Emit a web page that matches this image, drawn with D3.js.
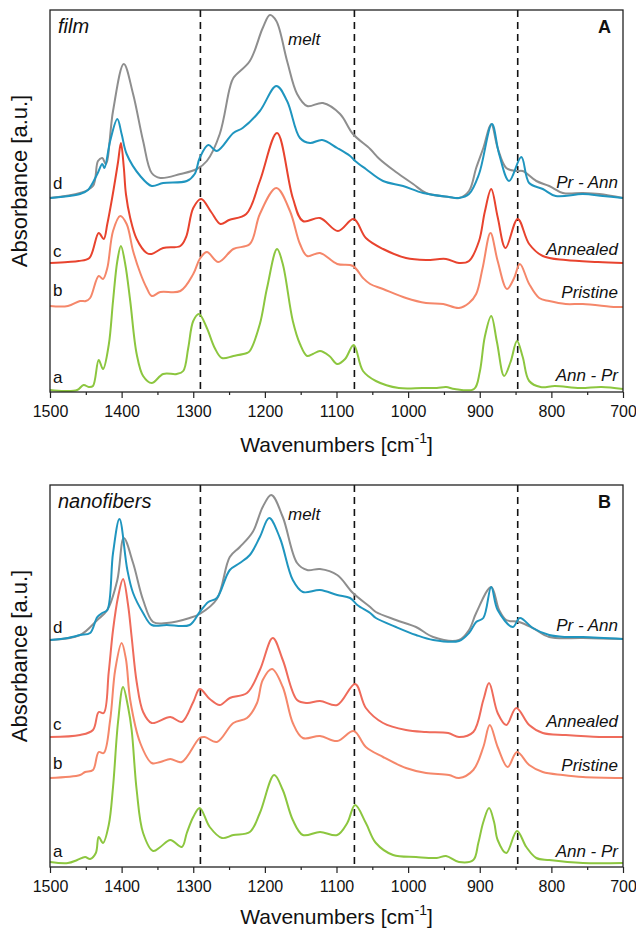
<!DOCTYPE html>
<html><head><meta charset="utf-8">
<script src="https://cdn.jsdelivr.net/npm/d3@7"></script>
<style>
body{margin:0;background:#fff}
svg{display:block}
text{font-family:"Liberation Sans",Arial,Helvetica,sans-serif;fill:#111}
</style>
</head><body>
<svg id="chart" width="636" height="930"></svg>
<script>
// ---------- data (wavenumber [cm-1], absorbance [a.u., offset]) ----------
const majorTicks = [1500,1400,1300,1200,1100,1000,900,800,700];
const minorTicks = [1450,1350,1250,1150,1050,950,850,750];
const markerLines = [1290,1075,847];

const filmAnnPr = [[1500,.02],[1480,.01],[1462,.02],[1453,.07],[1446,.05],[1440,.06],[1432,.32],[1426,.23],[1418,.47],[1412,.91],[1406,1.31],[1401,1.46],[1395,1.28],[1388,.91],[1379,.38],[1370,.16],[1358,.09],[1342,.18],[1323,.18],[1314,.21],[1307,.44],[1300,.71],[1292,.78],[1281,.64],[1270,.44],[1260,.34],[1244,.36],[1225,.39],[1221,.41],[1207,.68],[1197,1.04],[1183,1.43],[1175,1.28],[1161,.71],[1151,.48],[1141,.36],[1133,.38],[1123,.41],[1110,.36],[1099,.28],[1088,.33],[1076,.47],[1063,.21],[1045,.11],[1013,.04],[980,.04],[960,.04],[947,.05],[935,.03],[908,.03],[900,.20],[893,.55],[884,.76],[876,.50],[866,.16],[857,.30],[848,.51],[840,.35],[831,.11],[815,.05],[795,.06],[760,.04],[730,.05],[700,.03]];
const filmPristine = [[1500,.86],[1475,.86],[1458,.91],[1450,.91],[1444,.94],[1432,1.16],[1426,1.13],[1420,1.24],[1412,1.61],[1402,1.76],[1393,1.68],[1384,1.41],[1374,1.19],[1365,1.04],[1358,.96],[1346,1.00],[1318,1.01],[1300,1.18],[1291,1.33],[1281,1.40],[1265,1.30],[1244,1.43],[1221,1.48],[1207,1.78],[1184,2.04],[1165,1.81],[1151,1.48],[1141,1.36],[1123,1.39],[1099,1.28],[1077,1.26],[1063,1.14],[1053,1.08],[1035,1.03],[1003,.94],[975,.89],[951,.88],[929,.84],[915,.89],[905,.98],[896,1.24],[885,1.59],[875,1.31],[862,1.03],[852,1.14],[844,1.28],[831,1.08],[817,.94],[803,.91],[780,.88],[756,.88],[710,.85],[700,.85]];
const filmAnnealed = [[1500,1.29],[1475,1.30],[1460,1.31],[1445,1.34],[1432,1.59],[1425,1.53],[1420,1.68],[1413,1.95],[1405,2.30],[1401,2.49],[1397,2.25],[1394,1.98],[1388,1.74],[1379,1.53],[1365,1.39],[1358,1.38],[1342,1.44],[1318,1.46],[1310,1.55],[1300,1.84],[1289,1.93],[1275,1.80],[1262,1.68],[1250,1.72],[1226,1.78],[1207,2.11],[1183,2.59],[1161,1.94],[1147,1.71],[1123,1.74],[1098,1.61],[1076,1.73],[1059,1.54],[1035,1.43],[1003,1.34],[975,1.32],[947,1.33],[929,1.29],[915,1.31],[901,1.51],[893,1.80],[884,2.03],[875,1.75],[864,1.44],[847,1.73],[831,1.48],[812,1.36],[780,1.32],[735,1.30],[700,1.29]];
const filmPrAnnBlue = [[1500,1.94],[1458,1.98],[1447,2.02],[1434,2.18],[1427,2.28],[1424,2.24],[1416,2.51],[1406,2.73],[1400,2.58],[1393,2.38],[1374,2.16],[1358,2.06],[1342,2.09],[1309,2.11],[1298,2.18],[1291,2.34],[1279,2.47],[1267,2.41],[1244,2.59],[1231,2.64],[1207,2.81],[1184,3.06],[1169,2.91],[1151,2.54],[1137,2.49],[1120,2.52],[1099,2.44],[1081,2.36],[1074,2.31],[1059,2.23],[1035,2.11],[1007,2.06],[979,1.99],[943,1.95],[929,1.94],[915,1.98],[901,2.18],[883,2.68],[873,2.38],[859,2.11],[842,2.35],[831,2.09],[812,2.03],[794,1.96],[756,1.98],[728,1.96],[700,1.94]];
const filmMeltGray = [[1500,1.94],[1458,1.99],[1440,2.06],[1433,2.31],[1427,2.34],[1422,2.28],[1412,2.81],[1397,3.28],[1384,2.98],[1370,2.51],[1358,2.19],[1346,2.14],[1318,2.18],[1295,2.23],[1281,2.31],[1263,2.58],[1249,3.04],[1244,3.14],[1221,3.31],[1203,3.64],[1193,3.77],[1184,3.71],[1169,3.31],[1155,2.98],[1141,2.86],[1119,2.89],[1095,2.78],[1077,2.58],[1053,2.43],[1040,2.33],[1017,2.20],[993,2.08],[975,1.99],[943,1.95],[929,1.94],[915,2.01],[905,2.24],[895,2.44],[884,2.68],[875,2.44],[863,2.24],[849,2.21],[840,2.21],[821,2.11],[803,2.06],[784,1.99],[756,1.99],[733,1.98],[700,1.94]];

const nanoAnnPr = [[1500,.05],[1475,.04],[1462,.07],[1451,.10],[1444,.08],[1436,.14],[1432,.30],[1426,.24],[1418,.42],[1412,.80],[1405,1.45],[1398,1.80],[1391,1.60],[1386,1.37],[1379,.77],[1370,.34],[1356,.16],[1346,.20],[1332,.27],[1316,.20],[1309,.34],[1300,.50],[1291,.59],[1277,.40],[1260,.29],[1244,.32],[1221,.35],[1207,.54],[1187,.92],[1175,.77],[1161,.47],[1147,.32],[1123,.35],[1099,.32],[1085,.44],[1074,.62],[1059,.44],[1045,.24],[1021,.12],[989,.10],[960,.09],[947,.11],[929,.05],[909,.07],[902,.24],[895,.45],[887,.59],[880,.45],[875,.27],[863,.14],[848,.36],[835,.20],[821,.09],[803,.07],[756,.04],[700,.04]];
const nanoPristine = [[1500,.89],[1458,.92],[1451,.95],[1440,.97],[1432,1.15],[1425,1.14],[1416,1.47],[1409,1.97],[1400,2.24],[1394,2.08],[1388,1.67],[1374,1.24],[1358,1.04],[1346,1.05],[1332,1.08],[1316,1.05],[1291,1.29],[1284,1.30],[1267,1.25],[1244,1.44],[1225,1.49],[1211,1.64],[1203,1.87],[1190,1.98],[1175,1.80],[1161,1.44],[1147,1.29],[1123,1.31],[1099,1.26],[1076,1.36],[1059,1.20],[1035,1.10],[1003,.99],[975,.94],[943,.92],[929,.89],[909,.97],[895,1.20],[886,1.42],[875,1.20],[861,1.00],[848,1.15],[831,1.02],[812,.95],[784,.92],[756,.90],[700,.89]];
const nanoAnnealed = [[1500,1.30],[1458,1.32],[1440,1.37],[1432,1.55],[1425,1.54],[1418,1.95],[1412,2.37],[1405,2.70],[1398,2.88],[1391,2.62],[1386,2.30],[1379,1.85],[1370,1.55],[1358,1.44],[1332,1.50],[1316,1.45],[1300,1.65],[1291,1.78],[1277,1.68],[1263,1.62],[1249,1.69],[1225,1.74],[1207,1.97],[1189,2.29],[1175,2.07],[1155,1.67],[1141,1.64],[1123,1.66],[1099,1.62],[1074,1.83],[1059,1.59],[1035,1.44],[1003,1.37],[975,1.35],[944,1.34],[929,1.30],[909,1.35],[895,1.67],[887,1.84],[875,1.54],[863,1.42],[849,1.59],[831,1.42],[812,1.34],[780,1.32],[733,1.30],[700,1.30]];
const nanoPrAnnBlue = [[1500,2.27],[1475,2.29],[1458,2.32],[1444,2.34],[1434,2.50],[1427,2.54],[1420,2.57],[1412,3.14],[1403,3.48],[1392,2.97],[1384,2.74],[1370,2.54],[1358,2.42],[1337,2.42],[1305,2.42],[1291,2.55],[1279,2.65],[1267,2.69],[1249,2.97],[1235,3.04],[1221,3.12],[1207,3.30],[1194,3.49],[1179,3.29],[1161,2.87],[1147,2.75],[1123,2.77],[1099,2.72],[1081,2.69],[1071,2.62],[1053,2.54],[1045,2.49],[1017,2.40],[989,2.32],[965,2.27],[929,2.26],[915,2.34],[905,2.45],[895,2.49],[884,2.80],[875,2.57],[854,2.40],[844,2.49],[826,2.39],[803,2.32],[780,2.30],[756,2.30],[700,2.28]];
const nanoMeltGray = [[1500,2.27],[1458,2.32],[1434,2.47],[1420,2.57],[1406,2.87],[1397,3.29],[1384,3.04],[1370,2.67],[1356,2.45],[1337,2.44],[1305,2.49],[1291,2.53],[1267,2.68],[1249,3.10],[1235,3.20],[1217,3.35],[1203,3.60],[1191,3.72],[1175,3.50],[1155,3.04],[1141,2.97],[1123,2.98],[1099,2.92],[1077,2.74],[1053,2.60],[1045,2.55],[1017,2.47],[989,2.40],[965,2.30],[929,2.27],[915,2.37],[905,2.54],[884,2.80],[873,2.57],[863,2.47],[845,2.45],[826,2.39],[803,2.30],[756,2.29],[700,2.28]];

const seriesLetters = ["a","b","c","d"];
const seriesNames = ["Ann - Pr","Pristine","Annealed","Pr - Ann"];

// ---------- layout ----------
const svg = d3.select("#chart");
const L = 50, R = 623;
const x = d3.scaleLinear().domain([1500,700]).range([L,R]);

const panels = [
  {top:10, bottom:392, title:"film", tag:"A", titleOff:60,
   curves:[[filmAnnPr,"#8cc63f"],[filmPristine,"#f5876a"],[filmAnnealed,"#e8432e"],[filmMeltGray,"#8e8e8e"],[filmPrAnnBlue,"#1f95bf"]],
   letterY:[383,296,257,189], nameY:[381,298,255,188]},
  {top:485, bottom:867, title:"nanofibers", tag:"B", titleOff:57,
   curves:[[nanoAnnPr,"#8cc63f"],[nanoPristine,"#f5876a"],[nanoAnnealed,"#ef6b5b"],[nanoMeltGray,"#8e8e8e"],[nanoPrAnnBlue,"#1f95bf"]],
   letterY:[857,769,730,633], nameY:[857,771,727,631]}
];

panels.forEach(p => {
  const y = d3.scaleLinear().domain([0,3.82]).range([p.bottom,p.top]);
  const g = svg.append("g");
  const line = d3.line().x(d=>x(d[0])).y(d=>y(d[1])).curve(d3.curveCatmullRom.alpha(0.5));

  // dashed marker lines
  g.selectAll("line.mk").data(markerLines).join("line")
    .attr("x1",d=>x(d)).attr("x2",d=>x(d))
    .attr("y1",p.top).attr("y2",p.bottom)
    .attr("stroke","#111").attr("stroke-width",1.6).attr("stroke-dasharray","7,5");

  // spectra
  p.curves.forEach(([data,color]) => {
    g.append("path").datum(data).attr("d",line)
      .attr("fill","none").attr("stroke",color).attr("stroke-width",2)
      .attr("stroke-linejoin","round");
  });

  // frame
  g.append("rect").attr("x",L).attr("y",p.top).attr("width",R-L).attr("height",p.bottom-p.top)
    .attr("fill","none").attr("stroke","#222").attr("stroke-width",1.3);

  // axis
  const ax = g.append("g").attr("transform",`translate(0,${p.bottom})`)
    .call(d3.axisBottom(x).tickValues(majorTicks).tickSize(6).tickFormat(d3.format("d")));
  ax.select(".domain").remove();
  ax.selectAll(".tick line").attr("stroke","#222").attr("stroke-width",1.2);
  ax.selectAll(".tick text").attr("y",25).attr("dy",0)
    .style("font-size","16px").style("fill","#111")
    .style("font-family","'Liberation Sans',Arial,sans-serif");
  const axm = g.append("g").attr("transform",`translate(0,${p.bottom})`)
    .call(d3.axisBottom(x).tickValues(minorTicks).tickSize(3).tickFormat(""));
  axm.select(".domain").remove();
  axm.selectAll(".tick line").attr("stroke","#222").attr("stroke-width",1.2);

  // axis titles
  const xt = g.append("text").attr("x",(L+R)/2).attr("y",p.bottom+p.titleOff)
    .attr("text-anchor","middle").style("font-size","21px");
  xt.append("tspan").text("Wavenumbers [cm");
  xt.append("tspan").text("-1").style("font-size","14px").attr("dy",-9);
  xt.append("tspan").text("]").attr("dy",9);

  g.append("text").attr("transform",`translate(27,${(p.top+p.bottom)/2-20}) rotate(-90)`)
    .attr("text-anchor","middle").style("font-size","22px").text("Absorbance [a.u.]");

  // annotations
  g.append("text").attr("x",58).attr("y",p.top+23).style("font-size","20px")
    .style("font-style","italic").text(p.title);
  g.append("text").attr("x",288).attr("y",p.top+35).style("font-size","17px")
    .style("font-style","italic").text("melt");
  g.append("text").attr("x",611).attr("y",p.top+23).attr("text-anchor","end")
    .style("font-size","18px").style("font-weight","bold").text(p.tag);

  seriesLetters.forEach((t,i) => {
    g.append("text").attr("x",53).attr("y",p.letterY[i]).style("font-size","17px").text(t);
  });
  seriesNames.forEach((t,i) => {
    g.append("text").attr("x",618).attr("y",p.nameY[i]).attr("text-anchor","end")
      .style("font-size","17px").style("font-style","italic").text(t);
  });
});
</script>
</body></html>
